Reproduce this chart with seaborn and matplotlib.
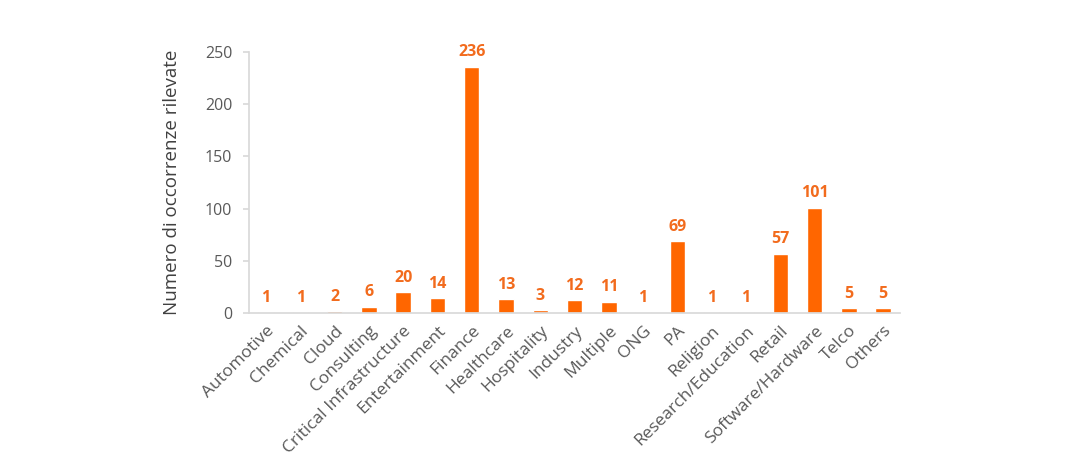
import matplotlib
matplotlib.use("Agg")
import matplotlib.pyplot as plt
import seaborn as sns
import numpy as np
import pandas as pd

categories = ["Automotive", "Chemical", "Cloud", "Consulting", "Critical Infrastructure",
              "Entertainment", "Finance", "Healthcare", "Hospitality", "Industry", "Multiple",
              "ONG", "PA", "Religion", "Research/Education", "Retail", "Software/Hardware",
              "Telco", "Others"]
values = [1, 1, 2, 6, 20, 14, 236, 13, 3, 12, 11, 1, 69, 1, 1, 57, 101, 5, 5]
yticks = [0, 50, 100, 150, 200, 250]

sns.set_theme(style="white")
plt.rcParams['font.family'] = ['Open Sans', 'DejaVu Sans']

df = pd.DataFrame({"cat": categories, "val": values})
fig = plt.figure(figsize=(10.73, 4.75), dpi=100)
ax = fig.add_axes([0.232, 0.341, 0.607, 0.5495])
orange = "#FF6600"
sns.barplot(data=df, x="cat", y="val", color=orange, width=0.45, ax=ax, saturation=1)

ax.set_ylim(0, 250)
ax.set_xlim(-0.5, len(categories) - 0.5)
ax.set_yticks(yticks)
ax.set_yticklabels([str(t) for t in yticks], color="#595959", fontsize=11.5)
ax.set_xlabel("")
ax.set_ylabel("Numero di occorrenze rilevate", fontsize=13.5, color="#404040", labelpad=17)
ax.set_xticks(range(len(categories)))
ax.set_xticklabels(categories, rotation=45, ha="right", rotation_mode="anchor",
                   fontsize=12.5, color="#595959")
ax.tick_params(axis="x", which="major", length=0, pad=7)
ax.set_xticks(np.arange(-0.5, len(categories), 1.0), minor=True)
ax.tick_params(axis="x", which="minor", length=4, color="#D9D9D9", width=1)
ax.tick_params(axis="y", length=4, color="#D9D9D9", left=True, pad=8)

for s in ["top", "right"]:
    ax.spines[s].set_visible(False)
ax.spines["left"].set_color("#D9D9D9")
ax.spines["bottom"].set_color("#D9D9D9")

for i, v in enumerate(values):
    ax.text(i, v + 6, str(v), ha="center", va="bottom", color="#F26B1D",
            fontsize=11.5, fontweight="bold")

fig.savefig("out.png", dpi=100)
